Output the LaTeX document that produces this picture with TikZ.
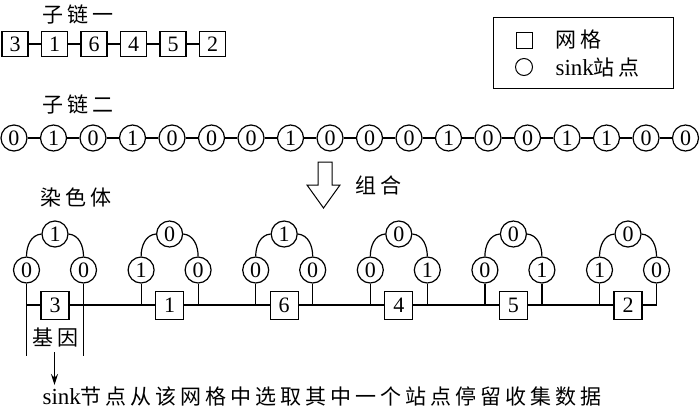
\documentclass[tikz,border=0pt]{standalone}
\usepackage{fontspec}
\setmainfont{Liberation Serif}
\newfontfamily\cjk[LetterSpace=19]{Noto Sans CJK SC}
\usetikzlibrary{arrows.meta}
\begin{document}
\begin{tikzpicture}[x=1pt,y=-1pt,line width=1.2pt,
  font=\fontsize{21}{24}\selectfont,
  gene/.style={draw,fill=white,minimum width=26pt,minimum height=25pt,inner sep=0pt,font=\fontsize{22}{22}\selectfont},
  cgene/.style={draw,fill=white,minimum width=28pt,minimum height=28pt,inner sep=0pt,font=\fontsize{22}{22}\selectfont},
  site/.style={draw,circle,fill=white,minimum size=26pt,inner sep=0pt,font=\fontsize{22}{22}\selectfont},
  lbl/.style={anchor=west,inner sep=0pt},
  lat/.style={font=\fontsize{23}{24}\selectfont}]
\useasboundingbox (0,0) rectangle (700,408);

% sub chain 1
\node[lbl] (s1) at (42,14) {\cjk 子链一};
\foreach \v [count=\i from 0] in {3,1,6,4,5,2}
  \node[gene] (a\i) at (15+39.5*\i,44) {\v};
\foreach \i in {1,...,5}{\pgfmathtruncatemacro\p{\i-1}\draw (a\p) -- (a\i);}

% legend
\node[draw,line width=1pt,minimum width=180pt,minimum height=71pt,anchor=north west] (leg) at (493,17) {};
\node[draw,line width=1pt,minimum size=16pt,inner sep=0pt] (lsq) at (524.5,40) {};
\node[draw,line width=1pt,circle,minimum size=17pt,inner sep=0pt] (lci) at (524,67) {};
\node[lbl] (lt1) at (555,40) {\cjk 网格};
\node[lbl] (lt2) at (555,67) {{\fontsize{23}{24}\selectfont sink}{\cjk 站点}};

% sub chain 2
\node[lbl] (s2) at (42,104) {\cjk 子链二};
\foreach \v [count=\i from 0] in {0,1,0,1,0,0,0,1,0,0,0,1,0,0,1,1,0,0}
  \node[site] (b\i) at (14+39.5*\i,138) {\v};
\foreach \i in {1,...,17}{\pgfmathtruncatemacro\p{\i-1}\draw (b\p) -- (b\i);}

% combine arrow
\draw[line width=1pt,line join=miter] (318,162) -- (332,162) -- (332,185) -- (340,185) -- (323.5,208) -- (307,185) -- (318,185) -- cycle;
\node[lbl] (zh) at (355,185) {\cjk 组合};

% chromosome
\node[lbl] (ch) at (40,197) {\cjk 染色体};
\foreach \g/\t/\l/\r in {0/1/0/0,1/0/1/0,2/1/0/0,3/0/0/1,4/0/0/1,5/0/1/0}{
  \pgfmathsetmacro\cx{55+114.6*\g}
  \node[site] (t\g) at (\cx,234) {\t};
  \node[site] (l\g) at (\cx-28.5,270) {\l};
  \node[site] (r\g) at (\cx+28.5,270) {\r};
  \coordinate (lb\g) at (\cx-28.5,305);
  \coordinate (rb\g) at (\cx+28.5,305);
  \draw (l\g.north) to[out=90,in=185] (t\g.west);
  \draw (r\g.north) to[out=90,in=-5] (t\g.east);
  \draw (l\g) -- (lb\g);
  \draw (r\g) -- (rb\g);
}
\draw (lb0) -- (rb5);
\coordinate (lx) at (26.5,356);
\coordinate (rx) at (83.5,356);
\draw (lb0) -- (lx);
\draw (rb0) -- (rx);
\foreach \g/\G in {0/3,1/1,2/6,3/4,4/5,5/2}{
  \pgfmathsetmacro\cx{55+114.6*\g}
  \node[cgene] (c\g) at (\cx,305.5) {\G};
}

% gene label and arrow
\node[lbl] (jy) at (32,337) {\cjk 基因};
\coordinate (as) at (54.5,352);
\coordinate (ae) at (54.5,385);
\draw[line width=1.1pt,-{Stealth[length=11pt,width=7pt]}] (as) -- (ae);
\node[lbl] (bt) at (42,396) {{\fontsize{23}{24}\selectfont sink}{\cjk 节点从该网格中选取其中一个站点停留收集数据}};
\end{tikzpicture}
\end{document}
